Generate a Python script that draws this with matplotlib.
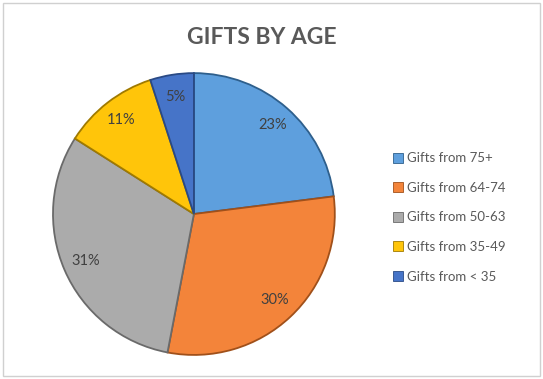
import matplotlib
matplotlib.use('Agg')
import matplotlib.pyplot as plt
from matplotlib.patches import Rectangle

labels = ['Gifts from 75+', 'Gifts from 64-74', 'Gifts from 50-63', 'Gifts from 35-49', 'Gifts from < 35']
values = [23, 30, 31, 11, 5]
colors = ['#5E9FDD', '#F3843A', '#ABABAB', '#FFC50A', '#4674C8']
edges = ['#2E5F8C', '#A0501A', '#6A6A6A', '#A07A00', '#2A4A85']

plt.rcParams['font.family'] = ['Lato', 'DejaVu Sans']

fig = plt.figure(figsize=(5.43, 3.79), dpi=100)
fig.patches.append(Rectangle((0.006, 0.008), 0.988, 0.984, transform=fig.transFigure,
                             fill=False, edgecolor='#D0D0D0', linewidth=1))

ax = fig.add_axes([0.0976, 0.0633, 0.519, 0.744])
wedges, texts, autotexts = ax.pie(values, colors=colors, startangle=90, counterclock=False,
                                  autopct='%d%%', pctdistance=0.84,
                                  wedgeprops=dict(linewidth=1.3))
for w, ec in zip(wedges, edges):
    w.set_edgecolor(ec)
for t in autotexts:
    t.set_color('#404040')
    t.set_fontsize(10.5)
ax.set_xlim(-1, 1)
ax.set_ylim(-1, 1)
ax.set_aspect('equal')

fig.text(0.483, 0.902, 'GIFTS BY AGE', ha='center', va='center', fontsize=16.5,
         fontweight='bold', color='#595959')

handles = [plt.Line2D([], [], marker='s', linestyle='', markersize=6.5, markerfacecolor=c,
                      markeredgecolor=e, markeredgewidth=0.6) for c, e in zip(colors, edges)]
leg = fig.legend(handles, labels, loc='upper left', bbox_to_anchor=(0.715, 0.612),
                 frameon=False, fontsize=9.5, labelspacing=1.33, handlelength=0.7,
                 handletextpad=0.3, borderaxespad=0)
for t in leg.get_texts():
    t.set_color('#595959')

fig.savefig('out.png', dpi=100)
